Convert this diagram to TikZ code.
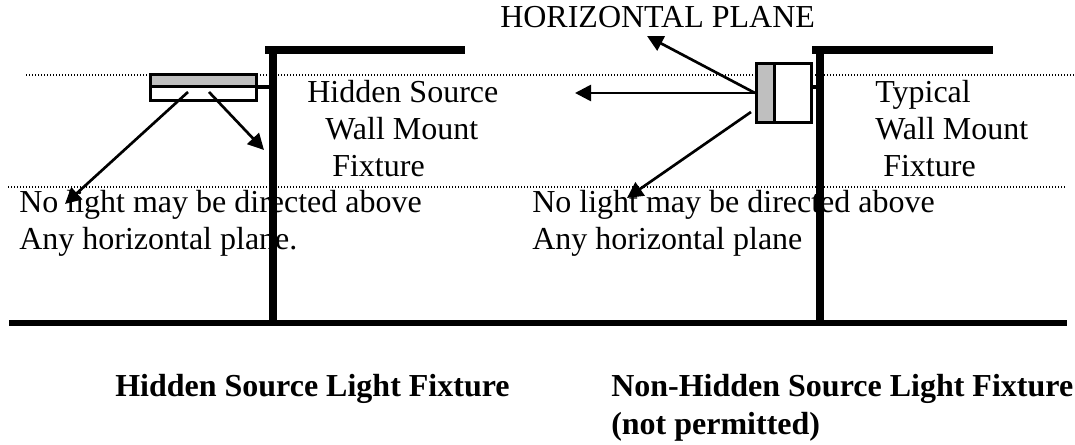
\documentclass[tikz,border=0pt]{standalone}
\usepackage{fontspec}
\setmainfont{Liberation Serif}
\usetikzlibrary{arrows.meta}
\tikzset{
  label/.style={anchor=base west, inner sep=0, font=\fontsize{24}{28}\selectfont},
  title/.style={label, font=\fontsize{24}{28}\selectfont\bfseries},
  wall/.style={line width=6pt},
  floor/.style={line width=4.5pt},
  level/.style={line width=0.9pt, dash pattern=on 1pt off 1.25pt},
  ray/.style={line width=2pt, -{Triangle[length=12pt, width=12pt]}},
  lamp/.style={draw, line width=2.25pt},
}
\begin{document}
\begin{tikzpicture}[x=0.75pt, y=-0.75pt]
      \useasboundingbox (0,0) rectangle (1075,445);
      % dotted levels
      \coordinate (l1) at (26,75);
      \coordinate (l2) at (1074,75);
      \coordinate (l3) at (8,187);
      \coordinate (l4) at (1065,187);
      \draw[level] (l1) -- (l2);
      \draw[level] (l3) -- (l4);
      % floor and walls
      \coordinate (f1) at (9,323);
      \coordinate (f2) at (1067,323);
      \coordinate (a1) at (273,323);
      \coordinate (a2) at (273,50);
      \coordinate (a3) at (265,50);
      \coordinate (a4) at (465,50);
      \coordinate (b1) at (820,323);
      \coordinate (b2) at (820,50);
      \coordinate (b3) at (812,50);
      \coordinate (b4) at (993,50);
      \draw[floor] (f1) -- (f2);
      \draw[wall] (a1) -- (a2);
      \draw[wall] (a3) -- (a4);
      \draw[wall] (b1) -- (b2);
      \draw[wall] (b3) -- (b4);
      % hidden source fixture
      \draw[lamp, fill=white] (150.5,74.5) rectangle (256.5,100.5);
      \draw[lamp, fill=lightgray] (150.5,74.5) rectangle (256.5,87);
      \coordinate (s1) at (257,87);
      \coordinate (s2) at (273,87);
      \draw[line width=3pt] (s1) -- (s2);
      \coordinate (h0) at (188,92);
      \coordinate (h1) at (65,204);
      \coordinate (h2) at (209,92);
      \coordinate (h3) at (264,150);
      \draw[ray] (h0) -- (h1);
      \draw[ray] (h2) -- (h3);
      % typical fixture
      \draw[lamp, fill=white] (756.5,64) rectangle (811.5,122.5);
      \draw[lamp, fill=lightgray] (756.5,64) rectangle (774,122.5);
      \coordinate (t1) at (812,87);
      \coordinate (t2) at (820,87);
      \draw[line width=3pt] (t1) -- (t2);
      \coordinate (n0) at (755,93);
      \coordinate (n1) at (647,36);
      \coordinate (n2) at (575,93);
      \coordinate (n3) at (751,112);
      \coordinate (n4) at (627,198);
      \draw[ray] (n0) -- (n1);
      \draw[ray] (n0) -- (n2);
      \draw[ray] (n3) -- (n4);
      % texts
      \node[label] (plane) at (500,28) {HORIZONTAL PLANE};
      \node[label] (h)  at (307,103) {Hidden Source};
      \node[label] (w)  at (325,140) {Wall Mount};
      \node[label] (x)  at (332,177) {Fixture};
      \node[label] (ty) at (875,103) {Typical};
      \node[label] (tw) at (875,140) {Wall Mount};
      \node[label] (tx) at (883,177) {Fixture};
      \node[label] (m1) at (19,212.5) {No light may be directed above};
      \node[label] (m2) at (19,250)   {Any horizontal plane.};
      \node[label] (m3) at (532,212.5) {No light may be directed above};
      \node[label] (m4) at (532,250)   {Any horizontal plane};
      \node[title] (c1) at (115,397) {Hidden Source Light Fixture};
      \node[title] (c2) at (611,397) {Non-Hidden Source Light Fixture};
      \node[title] (c3) at (611,434) {(not permitted)};
\end{tikzpicture}
\end{document}
